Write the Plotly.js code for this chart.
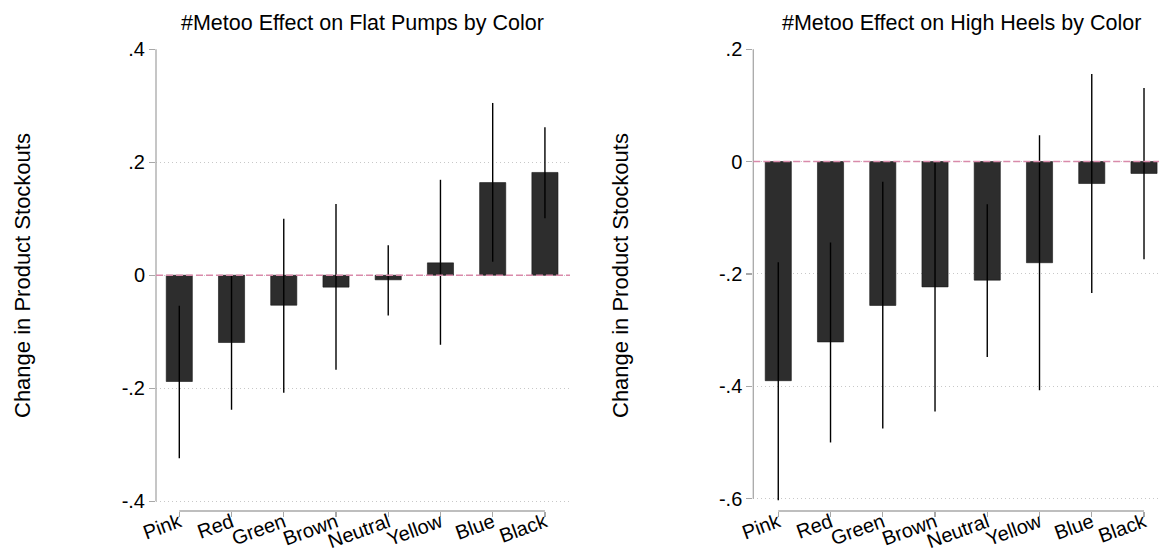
<!DOCTYPE html>
<html><head><meta charset="utf-8">
<script src="https://cdn.plot.ly/plotly-3.0.1.min.js"></script>
<style>html,body{margin:0;padding:0;background:#fff}</style>
</head><body><div id="chart" style="width:1159px;height:550px"></div>
<script>
// ---- data ----
const colorsCat = ['Pink','Red','Green','Brown','Neutral','Yellow','Blue','Black'];
const flatEffect = [-0.188,-0.119,-0.053,-0.021,-0.008,0.022,0.164,0.182];
const flatCiLow  = [-0.324,-0.238,-0.208,-0.167,-0.071,-0.123,0.024,0.101];
const flatCiHigh = [-0.054, 0.000, 0.100, 0.126, 0.053, 0.169,0.305,0.262];
const heelEffect = [-0.390,-0.321,-0.256,-0.223,-0.211,-0.180,-0.039,-0.021];
const heelCiLow  = [-0.603,-0.500,-0.475,-0.445,-0.348,-0.407,-0.234,-0.174];
const heelCiHigh = [-0.179,-0.144,-0.036,-0.002,-0.076, 0.047, 0.156, 0.131];
const flatTickVals = [-0.4,-0.2,0,0.2,0.4];
const flatTickText = ['-.4','-.2','0','.2','.4'];
const heelTickVals = [-0.6,-0.4,-0.2,0,0.2];
const heelTickText = ['-.6','-.4','-.2','0','.2'];
const flatTitle = '#Metoo Effect on Flat Pumps by Color';
const heelTitle = '#Metoo Effect on High Heels by Color';
const yTitle = 'Change in Product Stockouts';

// ---- build ----
const W = 1159, H = 550;
const FONT = 'Liberation Sans, Arial, Helvetica, sans-serif';
const AX = '#a8a8a8';
const BAR = '#2d2d2d';

function barTrace(y, lo, hi, xa, ya) {
  return {
    type: 'bar', x: colorsCat, y: y, xaxis: xa, yaxis: ya, width: 0.5,
    marker: {color: BAR, line: {color: '#151515', width: 0.6}},
    error_y: {type: 'data', symmetric: false,
      array: y.map((v, i) => hi[i] - v),
      arrayminus: y.map((v, i) => v - lo[i]),
      color: '#000', thickness: 1.4, width: 0},
    hoverinfo: 'x+y'
  };
}

const data = [
  barTrace(flatEffect, flatCiLow, flatCiHigh, 'x', 'y'),
  barTrace(heelEffect, heelCiLow, heelCiHigh, 'x2', 'y2')
];

function xAxis(dom, rng, anchor) {
  return {domain: dom, anchor: anchor, type: 'category', range: rng,
    showgrid: false, showline: false, zeroline: false,
    ticks: 'outside', ticklen: 5, tickcolor: AX, tickwidth: 1.2,
    tickangle: -20, ticklabelstandoff: -14,
    tickfont: {size: 20, family: FONT, color: '#000'}, fixedrange: true};
}
function yAxis(rng, vals, text, anchor) {
  return {domain: [0, 1], anchor: anchor, range: rng,
    tickmode: 'array', tickvals: vals, ticktext: text,
    ticks: 'outside', ticklen: 6, tickcolor: AX, tickwidth: 1.2,
    showgrid: true, gridcolor: '#c8c8c8', gridwidth: 1, griddash: '1px,3px',
    zeroline: false, showline: false,
    tickfont: {size: 20, family: FONT, color: '#000'}, fixedrange: true};
}

const axisShapes = (xa, ya, yLo, yHi) => [
  {type: 'line', xref: xa + ' domain', x0: 0, x1: 0, yref: ya, y0: yLo, y1: yHi,
   line: {color: AX, width: 1.3}},
  {type: 'line', xref: xa, x0: colorsCat[0], x1: colorsCat[colorsCat.length - 1],
   yref: ya + ' domain', y0: 0, y1: 0, line: {color: AX, width: 1.3}},
  {type: 'line', xref: xa + ' domain', x0: 0, x1: 1, yref: ya, y0: 0, y1: 0,
   line: {color: '#d98aaa', width: 1.5, dash: '7px,3px'}, layer: 'above'}
];

const layout = {
  width: W, height: H,
  margin: {l: 0, r: 0, t: 49, b: 39, pad: 0},
  paper_bgcolor: '#fff', plot_bgcolor: '#fff',
  showlegend: false, bargap: 0,
  font: {family: FONT, color: '#000'},
  xaxis: xAxis([156 / W, 570 / W], [-0.446, 7.48], 'y'),
  yaxis: yAxis([-0.4172, 0.4005], flatTickVals, flatTickText, 'x'),
  xaxis2: xAxis([753.3 / W, 1], [-0.478, 7.287], 'y2'),
  yaxis2: yAxis([-0.622, 0.2005], heelTickVals, heelTickText, 'x2'),
  shapes: [].concat(axisShapes('x', 'y', -0.4, 0.4), axisShapes('x2', 'y2', -0.6, 0.2)),
  annotations: [
    {text: flatTitle, xref: 'paper', x: 362.5 / W, xanchor: 'center', yref: 'paper', y: 1, yanchor: 'bottom',
     yshift: 12, showarrow: false, font: {size: 21.5, family: FONT, color: '#000'}},
    {text: heelTitle, xref: 'paper', x: 961 / W, xanchor: 'center', yref: 'paper', y: 1, yanchor: 'bottom',
     yshift: 12, showarrow: false, font: {size: 21.5, family: FONT, color: '#000'}},
    {text: yTitle, xref: 'paper', x: 22 / W, xanchor: 'center', yref: 'paper', y: 0.5, yshift: 4, textangle: -90,
     showarrow: false, font: {size: 22, family: FONT, color: '#000'}},
    {text: yTitle, xref: 'paper', x: 620 / W, xanchor: 'center', yref: 'paper', y: 0.5, yshift: 4, textangle: -90,
     showarrow: false, font: {size: 22, family: FONT, color: '#000'}}
  ]
};

Plotly.newPlot('chart', data, layout, {displayModeBar: false, staticPlot: true});
</script></body></html>
